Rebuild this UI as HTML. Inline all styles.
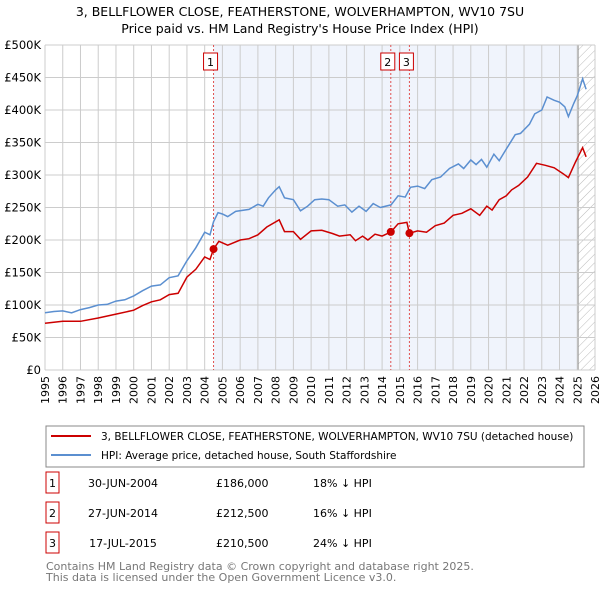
<!DOCTYPE html>
<html><head><meta charset="utf-8"><style>
body{margin:0;background:#fff;font-family:"Liberation Sans","DejaVu Sans",sans-serif;}
svg text{font-family:"DejaVu Sans","Liberation Sans",sans-serif;}
</style></head><body>
<svg id="c" width="600" height="590" viewBox="0 0 600 590">
<defs><pattern id="hatch" width="6" height="6" patternUnits="userSpaceOnUse" patternTransform="rotate(45)"><line x1="0" y1="0" x2="0" y2="6" stroke="#bbb" stroke-width="1"/></pattern></defs>
<text x="300" y="16" text-anchor="middle" font-size="12.5" fill="#000">3, BELLFLOWER CLOSE, FEATHERSTONE, WOLVERHAMPTON, WV10 7SU</text>
<text x="300" y="33" text-anchor="middle" font-size="12.5" fill="#000">Price paid vs. HM Land Registry's House Price Index (HPI)</text>
<g id="plot"></g>
<g>
<rect x="46" y="426" width="538" height="41" fill="#fff" stroke="#888"/>
<line x1="51" y1="436" x2="91" y2="436" stroke="#cc0000" stroke-width="2"/>
<text x="101" y="440" font-size="10.5">3, BELLFLOWER CLOSE, FEATHERSTONE, WOLVERHAMPTON, WV10 7SU (detached house)</text>
<line x1="51" y1="455" x2="91" y2="455" stroke="#5b8fd0" stroke-width="2"/>
<text x="101" y="459" font-size="10.5">HPI: Average price, detached house, South Staffordshire</text>
</g>
<g id="table" font-size="11"></g>
<text x="46" y="570" font-size="11" fill="#777">Contains HM Land Registry data © Crown copyright and database right 2025.</text>
<text x="46" y="581" font-size="11" fill="#777">This data is licensed under the Open Government Licence v3.0.</text>
</svg>
<script>
const hpiYears=[1995,1995.5,1996,1996.5,1997,1997.5,1998,1998.5,1999,1999.5,2000,2000.5,2001,2001.5,2002,2002.5,2003,2003.5,2004,2004.3,2004.5,2004.75,2005,2005.3,2005.75,2006.5,2007,2007.3,2007.6,2008,2008.2,2008.5,2009,2009.4,2009.8,2010.2,2010.6,2011,2011.5,2011.9,2012.3,2012.7,2013.1,2013.5,2013.9,2014.5,2014.9,2015.3,2015.6,2016,2016.4,2016.8,2017.3,2017.8,2018.3,2018.6,2019,2019.3,2019.6,2019.9,2020.3,2020.6,2021,2021.5,2021.8,2022.3,2022.6,2023,2023.3,2023.7,2024,2024.3,2024.5,2024.8,2025,2025.3,2025.5];
const hpiValues=[88,90,91,88,93,96,100,101,106,108,114,122,129,131,142,145,168,188,212,208,228,242,240,236,244,247,255,252,265,277,282,265,262,245,252,262,263,262,252,254,243,252,244,256,250,254,268,266,281,283,279,293,297,310,317,310,323,316,324,312,332,322,340,362,364,378,394,400,420,415,412,405,390,410,422,448,432];
const propYears=[1995,1996,1997,1998,1999,2000,2000.5,2001,2001.5,2002,2002.5,2003,2003.5,2004,2004.3,2004.5,2004.8,2005.3,2006,2006.5,2007,2007.5,2008.2,2008.5,2009,2009.4,2010,2010.6,2011.2,2011.6,2012.2,2012.5,2012.9,2013.2,2013.6,2014,2014.5,2014.9,2015.4,2015.54,2016,2016.5,2017,2017.5,2018,2018.5,2019,2019.5,2019.9,2020.2,2020.6,2021,2021.3,2021.7,2022.2,2022.7,2023.2,2023.7,2024.2,2024.5,2024.9,2025.3,2025.5];
const propValues=[72,75,75,80,86,92,99,105,108,116,118,143,155,174,170,186,198,192,200,202,208,220,231,213,213,201,214,215,210,206,208,199,206,200,209,206,212.5,225,227,210.5,214,212,222,226,238,241,248,238,252,246,262,268,277,284,297,318,315,311,302,296,320,342,328];
const saleYears=[2004.5,2014.49,2015.54];
const saleValues=[186,212.5,210.5];
const saleLabels=["1","2","3"];
const saleDates=["30-JUN-2004","27-JUN-2014","17-JUL-2015"];
const salePrices=["£186,000","£212,500","£210,500"];
const saleDiffs=["18% ↓ HPI","16% ↓ HPI","24% ↓ HPI"];
const yTicks=[0,50,100,150,200,250,300,350,400,450,500];
const yTickLabels=["£0","£50K","£100K","£150K","£200K","£250K","£300K","£350K","£400K","£450K","£500K"];
const xTicks=[1995,1996,1997,1998,1999,2000,2001,2002,2003,2004,2005,2006,2007,2008,2009,2010,2011,2012,2013,2014,2015,2016,2017,2018,2019,2020,2021,2022,2023,2024,2025,2026];

const NS="http://www.w3.org/2000/svg";
const L=45,R=595,T=45,B=370;
const X=y=>L+(y-1995)/(2026-1995)*(R-L);
const Y=v=>B-v/500*(B-T);
const g=document.getElementById('plot');
function mk(tag,attrs,parent){const e=document.createElementNS(NS,tag);for(const k in attrs)e.setAttribute(k,attrs[k]);(parent||g).appendChild(e);return e;}
let e;
e=mk('rect',{x:L,y:T,width:R-L,height:B-T,fill:'#fff'});


e=mk('rect',{x:X(2004.5),y:T,width:X(2025.0)-X(2004.5),height:B-T,fill:'#f0f4fc'});


e=mk('rect',{x:X(2025.05),y:T,width:R-X(2025.05),height:B-T,fill:'url(#hatch)'});


xTicks.forEach(t=>{
  e=mk('line',{x1:X(t),x2:X(t),y1:T,y2:B,stroke:'#ccc','stroke-width':1});
  
  
  e=mk('text',{x:0,y:0,'text-anchor':'end','font-size':11,fill:'#000',transform:'translate('+(X(t)+4)+','+(B+6)+') rotate(-90)'});
  e.textContent=t;
  
  
});
e=mk('line',{x1:X(2025.05),x2:X(2025.05),y1:T,y2:B,stroke:'#999','stroke-width':1});


yTicks.forEach((t,i)=>{
  e=mk('line',{x1:L,x2:R,y1:Y(t),y2:Y(t),stroke:'#ccc','stroke-width':1});
  
  
  e=mk('text',{x:L-4,y:Y(t)+4,'text-anchor':'end','font-size':11.5,fill:'#000'});
  e.textContent=yTickLabels[i];
  
  
});
saleYears.forEach((s,i)=>{
  e=mk('line',{x1:X(s),x2:X(s),y1:T,y2:B,stroke:'#e05050','stroke-width':1,'stroke-dasharray':'2,2'});
  
  
  const cx=X(s)-3;
  e=mk('rect',{x:cx-7,y:53,width:14,height:17,fill:'#fff',stroke:'#cc0000'});
  
  
  e=mk('text',{x:cx,y:66,'text-anchor':'middle','font-size':11});
  e.textContent=saleLabels[i];
  
  
});
function line(xs,vs,col,name){
  const d=xs.map((x,i)=>(i?'L':'M')+X(x).toFixed(1)+','+Y(vs[i]).toFixed(1)).join('');
  e=mk('path',{d:d,fill:'none',stroke:col,'stroke-width':1.5});
  
  
}
line(hpiYears,hpiValues,'#5b8fd0','hpi-line');
line(propYears,propValues,'#cc0000','property-line');
saleYears.forEach((s,i)=>{
  e=mk('circle',{cx:X(s),cy:Y(saleValues[i]),r:4,fill:'#cc0000'});
  
  
});
const tb=document.getElementById('table');
saleLabels.forEach((l,i)=>{
  const y=483+i*30;
  e=mk('rect',{x:46,y:y-11,width:13,height:21,fill:'#fff',stroke:'#cc0000'},tb);
  
  
  e=mk('text',{x:52.5,y:y+4,'text-anchor':'middle'},tb);e.textContent=l;
  
  
  e=mk('text',{x:123,y:y+4,'text-anchor':'middle'},tb);e.textContent=saleDates[i];
  
  
  e=mk('text',{x:216,y:y+4},tb);e.textContent=salePrices[i];
  
  
  e=mk('text',{x:313,y:y+4},tb);e.textContent=saleDiffs[i];
  
  
});
</script>
</body></html>
